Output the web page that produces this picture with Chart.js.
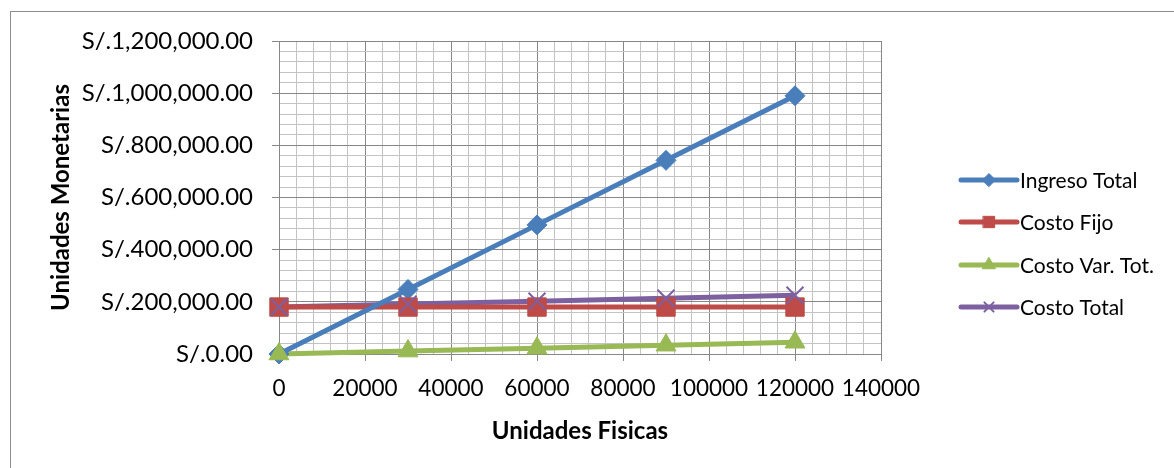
<!DOCTYPE html>
<html>
<head>
<meta charset="UTF-8">
<title>Punto de equilibrio</title>
<script src="https://cdn.jsdelivr.net/npm/chart.js@4"></script>
<style>
  html, body { margin: 0; padding: 0; background: #fff; }
  #wrap { position: relative; width: 1174px; height: 468px; overflow: hidden; }
  #frame { position: absolute; left: 10px; top: 11px; width: 1200px; height: 500px; border: 1px solid #8c8c8c; box-sizing: border-box; }
  canvas { position: absolute; left: 0; top: 0; }
</style>
</head>
<body>
<div id="wrap">
  <div id="frame"></div>
  <canvas id="chart" width="1174" height="468"></canvas>
</div>
<script>
// Datos del gráfico
const unidades = [0, 30000, 60000, 90000, 120000];
const ingresoTotal = [0, 247500, 495000, 742500, 990000];
const costoFijo = [180000, 180000, 180000, 180000, 180000];
const costoVarTot = [0, 11250, 22500, 33750, 45000];
const costoTotal = [180000, 191250, 202500, 213750, 225000];

const nombres = ['Ingreso Total', 'Costo Fijo', 'Costo Var. Tot.', 'Costo Total'];
const colores = ['#4a7ebb', '#be4b48', '#98b954', '#7d60a0'];
const marcas = ['rectRot', 'rect', 'triangle', 'crossRot'];
const radios = [10, 13, 11.5, 12];
const series = [ingresoTotal, costoFijo, costoVarTot, costoTotal];

const FONT = 'Lato, "Open Sans", sans-serif';
const MAJOR = '#878787';
const MINOR = '#c3c3c3';

function puntos(vals) {
    return unidades.map((u, i) => ({ x: u, y: vals[i] }));
}

// líneas primero (debajo), marcadores después (encima)
const lineOrder = [4, 5, 6, 7];
const markOrder = [3, 2, 1, 0];

const datasets = [];
series.forEach((vals, i) => {
    datasets.push({
        label: nombres[i],
        data: puntos(vals),
        showLine: true,
        borderColor: colores[i],
        borderWidth: 5,
        pointRadius: 0,
        clip: false,
        order: lineOrder[i]
    });
});
series.forEach((vals, i) => {
    datasets.push({
        label: nombres[i] + ' (marcas)',
        data: puntos(vals),
        showLine: false,
        pointStyle: marcas[i],
        pointRadius: radios[i],
        pointBackgroundColor: colores[i],
        pointBorderColor: colores[i],
        pointBorderWidth: marcas[i] === 'crossRot' ? 2 : 1,
        clip: false,
        order: markOrder[i]
    });
});

// leyenda a la derecha: línea con marcador al centro
const leyenda = {
    id: 'leyenda',
    afterDraw(chart) {
        const ctx = chart.ctx;
        const x0 = 961, x1 = 1017;
        const ys = [180, 222, 265, 307];
        const r = [6.5, 8, 7.5, 6.5];
        ctx.save();
        nombres.forEach((n, i) => {
            const y = ys[i];
            ctx.strokeStyle = colores[i];
            ctx.lineWidth = 5;
            ctx.lineCap = 'round';
            ctx.beginPath();
            ctx.moveTo(x0, y);
            ctx.lineTo(x1, y);
            ctx.stroke();
            ctx.fillStyle = colores[i];
            ctx.lineWidth = marcas[i] === 'crossRot' ? 2 : 1;
            Chart.helpers.drawPoint(ctx, { pointStyle: marcas[i], radius: r[i], rotation: 0, borderWidth: 1 }, (x0 + x1) / 2, y);
            ctx.fillStyle = '#000';
            ctx.font = '21px ' + FONT;
            ctx.textBaseline = 'middle';
            ctx.textAlign = 'left';
            ctx.fillText(n, 1020, y + 1);
        });
        ctx.restore();
    }
};

const moneda = v => 'S/.' + v.toLocaleString('en-US', { minimumFractionDigits: 2, maximumFractionDigits: 2 });

new Chart(document.getElementById('chart'), {
    type: 'scatter',
    data: { datasets: datasets },
    plugins: [leyenda],
    options: {
        responsive: false,
        animation: false,
        layout: { padding: { left: 47, right: 293, top: 41, bottom: 20 } },
        plugins: { legend: { display: false }, tooltip: { enabled: false } },
        scales: {
            x: {
                type: 'linear',
                min: 0, max: 140000,
                ticks: {
                    stepSize: 4000,
                    autoSkip: false,
                    maxRotation: 0,
                    padding: 14,
                    color: '#000',
                    font: { family: FONT, size: 22.5 },
                    callback: v => (v % 20000 === 0 ? String(v) : '')
                },
                grid: {
                    color: c => (c.tick && c.tick.value % 20000 === 0 ? MAJOR : MINOR),
                    tickColor: c => (c.tick && c.tick.value % 20000 === 0 ? MAJOR : 'rgba(0,0,0,0)'),
                    tickLength: 7,
                    lineWidth: 1
                },
                border: { color: MAJOR, width: 1 },
                title: {
                    display: true,
                    text: 'Unidades Fisicas',
                    color: '#000',
                    font: { family: FONT, size: 24, weight: 'bold' },
                    padding: { top: 4, bottom: 2 }
                },
                afterFit: s => { s.height = 468 - 20 - 354; }
            },
            y: {
                type: 'linear',
                min: 0, max: 1200000,
                ticks: {
                    stepSize: 40000,
                    autoSkip: false,
                    padding: 19,
                    color: '#000',
                    font: { family: FONT, size: 24 },
                    callback: v => (v % 200000 === 0 ? moneda(v) : '')
                },
                grid: {
                    color: c => (c.tick && c.tick.value % 200000 === 0 ? MAJOR : MINOR),
                    tickColor: c => (c.tick && c.tick.value % 200000 === 0 ? MAJOR : 'rgba(0,0,0,0)'),
                    tickLength: 7,
                    lineWidth: 1
                },
                border: { color: MAJOR, width: 1 },
                title: {
                    display: true,
                    text: 'Unidades Monetarias',
                    color: '#000',
                    font: { family: FONT, size: 24, weight: 'bold' },
                    padding: { top: 0, bottom: 0 }
                },
                afterFit: s => { s.width = 279 - 47; }
            }
        }
    }
});
</script>
</body>
</html>
